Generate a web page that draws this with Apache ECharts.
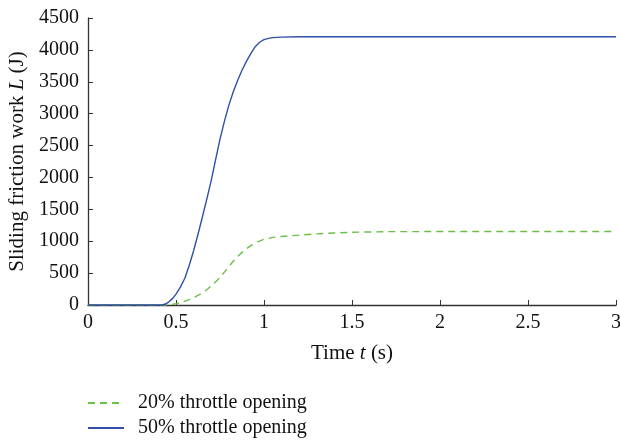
<!DOCTYPE html>
<html>
<head>
<meta charset="utf-8">
<script src="https://cdn.jsdelivr.net/npm/echarts@6/dist/echarts.min.js"></script>
<style>html,body{margin:0;padding:0;background:#fff;}#c{width:620px;height:441px;}</style>
</head>
<body>
<div id="c"></div>
<script>
var seriesNames = ['20% throttle opening', '50% throttle opening'];
var tGreen = [0, 0.45, 0.475, 0.5, 0.525, 0.55, 0.575, 0.6, 0.625, 0.65, 0.675, 0.7, 0.725, 0.75, 0.775, 0.8, 0.825, 0.85, 0.875, 0.9, 0.925, 0.95, 0.975, 1.0, 1.05, 1.1, 1.2, 1.3, 1.4, 1.5, 1.7, 2.0, 2.5, 3.0];
var lGreen = [0, 0, 8, 20, 38, 60, 85, 115, 150, 190, 240, 300, 362, 430, 515, 600, 685, 760, 825, 880, 930, 970, 1003, 1030, 1060, 1075, 1095, 1115, 1130, 1140, 1150, 1152, 1152, 1152];
var tBlue = [0, 0.42, 0.44, 0.46, 0.48, 0.5, 0.525, 0.55, 0.575, 0.6, 0.625, 0.65, 0.675, 0.7, 0.725, 0.75, 0.775, 0.8, 0.825, 0.85, 0.875, 0.9, 0.925, 0.95, 0.975, 1.0, 1.025, 1.05, 1.1, 1.2, 1.5, 2.0, 2.5, 3.0];
var lBlue = [0, 0, 15, 50, 100, 170, 280, 420, 620, 850, 1110, 1380, 1660, 1950, 2280, 2600, 2880, 3130, 3340, 3520, 3680, 3820, 3940, 4050, 4120, 4160, 4180, 4192, 4200, 4205, 4205, 4205, 4205, 4205];
var xTicks = [0, 0.5, 1, 1.5, 2, 2.5, 3];
var yTicks = [0, 500, 1000, 1500, 2000, 2500, 3000, 3500, 4000, 4500];

function pairs(xs, ys) { return xs.map(function (x, i) { return [x, ys[i]]; }); }

var font = 'Liberation Serif';
var axisColor = '#333';
var rich = { n: { fontFamily: font, fontSize: 21, color: '#111' }, i: { fontFamily: font, fontSize: 21, fontStyle: 'italic', color: '#111' } };
var chart = echarts.init(document.getElementById('c'), null, { renderer: 'canvas' });
chart.setOption({
  animation: false,
  backgroundColor: '#fff',
  textStyle: { fontFamily: font },
  grid: { left: 88, right: 4, top: 18, bottom: 136, containLabel: false, outerBoundsMode: 'none' },
  legend: {
    orient: 'vertical', left: 87, top: 393, padding: 0, itemWidth: 36, itemHeight: 12, itemGap: 5,
    itemStyle: { opacity: 0 },
    textStyle: { fontFamily: font, fontSize: 20, color: '#111', padding: [0, 0, 0, 9] },
    data: seriesNames
  },
  xAxis: {
    type: 'value', min: xTicks[0], max: xTicks[xTicks.length - 1], interval: 0.5,
    name: '{n|Time }{i|t}{n| (s)}', nameLocation: 'middle', nameGap: 38,
    nameTextStyle: { rich: rich },
    axisLine: { lineStyle: { color: axisColor, width: 1.3 } },
    axisTick: { inside: true, length: 5, lineStyle: { color: axisColor } },
    axisLabel: { fontFamily: font, fontSize: 20, color: '#111', margin: 8, formatter: function (v) { return String(v); } },
    splitLine: { show: false }
  },
  yAxis: {
    type: 'value', min: yTicks[0], max: yTicks[yTicks.length - 1], interval: 500,
    name: '{n|Sliding friction work }{i|L}{n| (J)}', nameLocation: 'middle', nameGap: 60, nameRotate: 90,
    nameTextStyle: { rich: rich },
    axisLine: { show: true, lineStyle: { color: axisColor, width: 1.3 } },
    axisTick: { show: true, inside: true, length: 5, lineStyle: { color: axisColor } },
    axisLabel: { fontFamily: font, fontSize: 20, color: '#111', margin: 9, formatter: function (v) { return String(v); } },
    splitLine: { show: false }
  },
  series: [
    {
      name: seriesNames[0], type: 'line', data: pairs(tGreen, lGreen), showSymbol: false, symbol: 'none',
      smooth: false,
      lineStyle: { color: '#6cbf45', width: 1.4, type: [7, 5] }, itemStyle: { color: '#6cbf45' }
    },
    {
      name: seriesNames[1], type: 'line', data: pairs(tBlue, lBlue), showSymbol: false, symbol: 'none',
      smooth: false,
      lineStyle: { color: '#2f4fa8', width: 1.4 }, itemStyle: { color: '#2f4fa8' }
    }
  ]
});
</script>
</body>
</html>
